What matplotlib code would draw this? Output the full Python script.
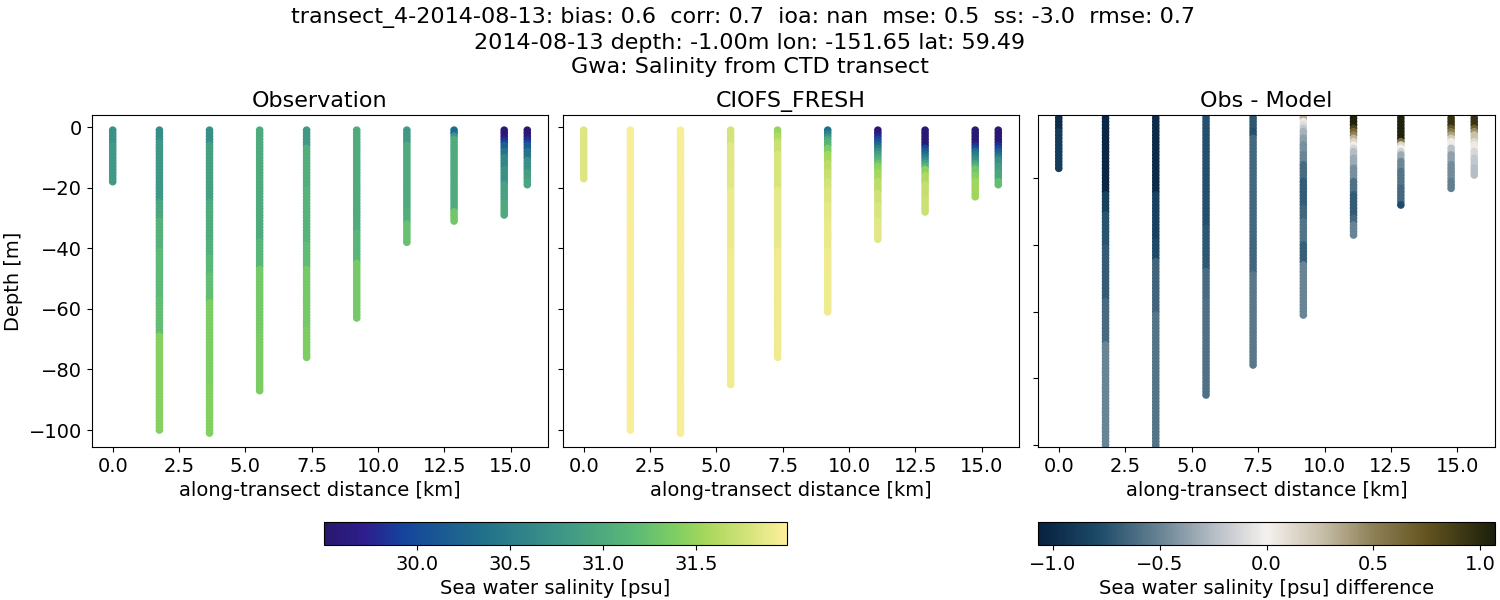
import numpy as np
import matplotlib
matplotlib.use('Agg')
import matplotlib.pyplot as plt
from matplotlib.colors import LinearSegmentedColormap

cast_km = [0.0, 1.76, 3.65, 5.54, 7.31, 9.2, 11.09, 12.87, 14.76, 15.63]

# bottom depth of each band and salinity in that band, one pair per cast
obs_bottoms = [
    [5, 18],
    [4, 24, 30, 40, 56, 68, 100],
    [5, 24, 37, 42, 48, 57, 85, 101],
    [37, 46, 67, 87],
    [6, 20, 38, 46, 66, 76],
    [34, 44, 63],
    [5, 27, 31, 38],
    [2, 3, 27, 31],
    [3, 4, 5, 7, 9, 13, 18, 24, 29],
    [3, 4, 5, 7, 10, 14, 17, 19],
]
obs_salinity = [
    [30.72, 30.8],
    [30.66, 30.78, 30.95, 31.07, 31.17, 31.22, 31.42],
    [30.7, 30.88, 31.02, 31.07, 31.15, 31.22, 31.38, 31.4],
    [31.0, 31.13, 31.33, 31.36],
    [30.8, 31.05, 31.1, 31.2, 31.33, 31.38],
    [31.0, 31.13, 31.33],
    [30.8, 31.0, 31.05, 31.25],
    [30.3, 30.75, 31.0, 31.3],
    [29.55, 29.75, 29.9, 30.2, 30.4, 30.6, 30.72, 30.9, 31.0],
    [29.55, 29.75, 29.9, 30.15, 30.4, 30.7, 30.85, 30.95],
]

model_bottoms = [
    [17],
    [100],
    [101],
    [5, 20, 40, 85],
    [2, 4, 8, 20, 40, 76],
    [1, 2, 3, 4, 6, 8, 11, 14, 17, 20, 25, 30, 40, 61],
    [2, 3, 4, 5, 6, 7, 8, 9, 10, 11, 12, 14, 17, 21, 25, 30, 37],
    [6, 7, 8, 9, 10, 11, 12, 13, 15, 18, 23, 28],
    [5, 6, 7, 8, 9, 10, 11, 12, 13, 15, 17, 23],
    [5, 6, 7, 8, 9, 10, 12, 14, 17, 19],
]
model_salinity = [
    [31.83],
    [31.97],
    [31.97],
    [31.78, 31.85, 31.9, 31.93],
    [31.5, 31.6, 31.72, 31.8, 31.87, 31.92],
    [30.3, 30.5, 30.7, 30.95, 31.1, 31.35, 31.55, 31.65, 31.72, 31.77, 31.82, 31.86, 31.89, 31.92],
    [29.55, 29.75, 29.95, 30.1, 30.3, 30.5, 30.7, 30.85, 30.98, 31.1, 31.28, 31.45, 31.55, 31.65, 31.75, 31.8, 31.84],
    [29.55, 29.95, 30.15, 30.3, 30.5, 30.7, 30.9, 31.1, 31.45, 31.6, 31.7, 31.73],
    [29.55, 29.8, 29.95, 30.3, 30.45, 30.6, 30.7, 30.9, 31.1, 31.3, 31.42, 31.53],
    [29.55, 29.8, 29.95, 30.15, 30.3, 30.5, 30.7, 30.85, 30.95, 31.22],
]

diff_bottoms = [
    [5, 17],
    [24, 30, 40, 56, 69, 100],
    [24, 38, 44, 60, 101],
    [34, 47, 56, 85],
    [5, 7, 38, 48, 76],
    [2, 3, 4, 5, 7, 9, 12, 15, 20, 28, 32, 39, 45, 61],
    [4, 5, 6, 7, 8, 9, 10, 11, 13, 16, 20, 24, 31, 33, 37],
    [8, 9, 10, 11, 12, 14, 17, 22, 27, 28],
    [1, 4, 5, 6, 7, 8, 10, 12, 15, 20, 23],
    [1, 4, 5, 6, 8, 9, 10, 11, 13, 16, 19],
]
diff_salinity = [
    [-0.98, -0.88],
    [-1.02, -0.85, -0.74, -0.7, -0.62, -0.5],
    [-1.0, -0.85, -0.8, -0.66, -0.58],
    [-0.76, -0.72, -0.62, -0.6],
    [-0.72, -0.76, -0.64, -0.65, -0.56],
    [0.3, 0.05, -0.1, -0.2, -0.3, -0.38, -0.45, -0.5, -0.62, -0.7, -0.65, -0.58, -0.68, -0.5],
    [1.05, 0.85, 0.65, 0.5, 0.3, 0.15, 0.02, -0.12, -0.25, -0.33, -0.45, -0.6, -0.7, -0.63, -0.5],
    [1.05, 0.6, 0.15, 0.0, -0.15, -0.33, -0.48, -0.58, -0.64, -0.78],
    [0.4, 0.95, 0.75, 0.55, 0.38, 0.2, 0.03, -0.23, -0.37, -0.46, -0.52],
    [0.4, 0.95, 0.7, 0.45, 0.25, 0.12, 0.05, -0.03, -0.12, -0.2, -0.25],
]

salinity_range = (29.5, 31.99)
diff_range = (-1.07, 1.07)
salinity_ticks = [30.0, 30.5, 31.0, 31.5]
diff_ticks = [-1.0, -0.5, 0.0, 0.5, 1.0]

title_text = ('transect_4-2014-08-13: bias: 0.6  corr: 0.7  ioa: nan  mse: 0.5  ss: -3.0  rmse: 0.7  \n'
              '2014-08-13 depth: -1.00m lon: -151.65 lat: 59.49\n'
              'Gwa: Salinity from CTD transect')

# stand-ins for the cmocean haline and diff maps
haline = LinearSegmentedColormap.from_list('haline', [
    (0.0, '#2a186c'), (0.09, '#2c1e8e'), (0.167, '#14439c'), (0.333, '#206e8b'),
    (0.5, '#3c9387'), (0.667, '#5ab978'), (0.76, '#7fce62'), (0.833, '#aad85c'), (1.0, '#fdef9a')])
diff_cmap = LinearSegmentedColormap.from_list('diff', [
    (0.0, '#07213f'), (0.13, '#1c4a68'), (0.27, '#6b8595'), (0.38, '#b3bbc3'),
    (0.5, '#f5f1ee'), (0.62, '#c8bfaa'), (0.73, '#8f8259'), (0.85, '#645420'), (1.0, '#1b1f0b')])


def add_axes_px(left, top, right, bottom):
    return fig.add_axes([left / 1500, 1 - bottom / 600, (right - left) / 1500, (bottom - top) / 600])


def draw_casts(ax, bottoms, values, cmap, limits):
    for km, bot, val in zip(cast_km, bottoms, values):
        depth = np.arange(1, bot[-1] + 1)
        colours = np.array(val)[np.searchsorted(bot, depth)]
        sc = ax.scatter(np.full(len(depth), km), -depth, c=colours, s=20, cmap=cmap,
                        vmin=limits[0], vmax=limits[1])
    return sc


plt.rcParams['font.size'] = 14
fig = plt.figure(figsize=(15, 6), dpi=100)

ax1 = add_axes_px(92, 115, 548, 447)
ax2 = add_axes_px(563, 115, 1019, 447)
ax3 = add_axes_px(1038, 115, 1495, 447)

sc1 = draw_casts(ax1, obs_bottoms, obs_salinity, haline, salinity_range)
draw_casts(ax2, model_bottoms, model_salinity, haline, salinity_range)
sc3 = draw_casts(ax3, diff_bottoms, diff_salinity, diff_cmap, diff_range)

ax1.set_title('Observation', fontsize=16)
ax2.set_title('CIOFS_FRESH', fontsize=16)
ax3.set_title('Obs - Model', fontsize=16)
ax1.set_ylabel('Depth [m]')
for ax in [ax1, ax2, ax3]:
    ax.set_xlabel('along-transect distance [km]')
ax1.set_ylim(-105.6, 4)
ax2.set_ylim(-105.6, 4)
ax2.tick_params(labelleft=False)
ax3.set_ylim(-100.6, -1)
ax3.tick_params(labelleft=False)

cax1 = add_axes_px(324, 522, 787, 545)
cb1 = fig.colorbar(sc1, cax=cax1, orientation='horizontal')
cb1.set_ticks(salinity_ticks)
cb1.set_label('Sea water salinity [psu]')

cax2 = add_axes_px(1038, 522, 1495, 545)
cb2 = fig.colorbar(sc3, cax=cax2, orientation='horizontal')
cb2.set_ticks(diff_ticks)
cb2.set_label('Sea water salinity [psu] difference')

fig.text(0.5, 0.988, title_text, ha='center', va='top', fontsize=16, linespacing=1.27)

fig.savefig('out.png', dpi=100)
